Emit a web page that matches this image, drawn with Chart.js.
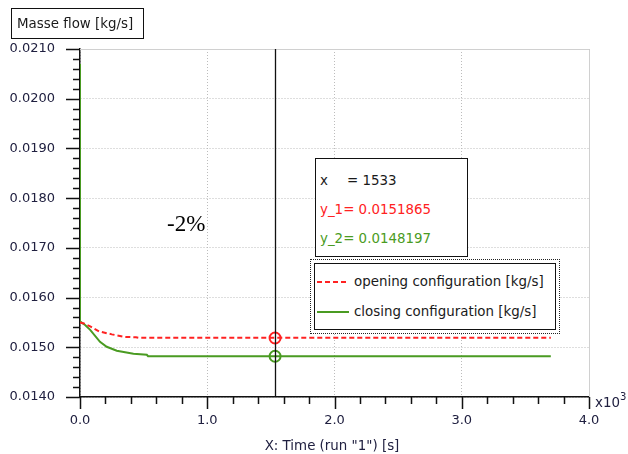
<!DOCTYPE html>
<html>
<head>
<meta charset="utf-8">
<script src="https://cdn.jsdelivr.net/npm/chart.js@4"></script>
<style>
  html, body { margin: 0; padding: 0; background: #fff; overflow: hidden; }
  #wrap { position: relative; width: 628px; height: 454px; }
  #chart { position: absolute; left: 0; top: 0; }
  .txt { position: absolute; font-family: "DejaVu Sans", sans-serif; font-size: 13.4px; color: #1a1a1a; white-space: nowrap; }
  #ytitle { left: 11px; top: 8px; width: 133px; height: 31px; border: 1px solid #111; box-sizing: border-box; line-height: 29px; padding-left: 5px; }
  #info { left: 315px; top: 158px; width: 153px; height: 99px; border: 1.5px solid #111; box-sizing: border-box; background: #fff; }
  #info div { position: absolute; left: 4px; line-height: 16px; }
  #info .k { display: inline-block; width: 27px; }
  #legend { left: 310px; top: 259px; width: 250px; height: 75px; border: 1.5px dotted #222; box-sizing: border-box; background: #fff; }
  #legend .inner { position: absolute; left: 3px; top: 3px; right: 3px; bottom: 3px; border: 1.5px solid #111; }
  #legend .row { position: absolute; left: 2px; height: 16px; line-height: 16px; }
  #legend .sample { display: inline-block; width: 32px; height: 2px; vertical-align: middle; margin-right: 5px; }
  #wrap #pct { left: 167px; top: 211px; font-family: "Liberation Serif", "DejaVu Serif", serif; font-size: 23px; color: #000; }
  #xexp { left: 595px; top: 393px; color: #202040; }
  #xexp sup { font-size: 10px; position: relative; top: -2px; }
  #xtitle { left: 0; width: 664px; top: 438px; text-align: center; color: #202040; }
</style>
</head>
<body>
<div id="wrap">
  <canvas id="chart" width="628" height="454"></canvas>
  <div class="txt" id="ytitle">Masse flow [kg/s]</div>
  <div class="txt" id="pct">-2%</div>
  <div class="txt" id="info">
    <div style="top:14px"><span class="k">x</span>= 1533</div>
    <div style="top:43px;color:#ff2222">y_1= 0.0151865</div>
    <div style="top:72px;color:#4a9b22">y_2= 0.0148197</div>
  </div>
  <div class="txt" id="legend">
    <div class="inner">
      <div class="row" style="top:10px"><span class="sample" style="background:repeating-linear-gradient(to right,#ff2222 0 5px,transparent 5px 8px)"></span>opening configuration [kg/s]</div>
      <div class="row" style="top:40px"><span class="sample" style="background:#4a9b22"></span>closing configuration [kg/s]</div>
    </div>
  </div>
  <div class="txt" id="xexp">x10<sup>3</sup></div>
  <div class="txt" id="xtitle">X: Time (run "1") [s]</div>
</div>
<script>
// values (time in s, flow in kg/s)
const openTime = [0, 30, 80, 150, 250, 350, 440, 460, 3700];
const openFlow = [0.01550, 0.01548, 0.01542, 0.01532, 0.01526, 0.01521, 0.01520, 0.01519, 0.01519];

const closeTime = [0, 0, 40, 80, 157, 210, 289, 420, 525, 535, 3700];
const closeFlow = [0.0207, 0.01552, 0.01545, 0.01535, 0.01511, 0.01501, 0.01493, 0.01487, 0.01485, 0.01482, 0.01482];

const cursorX = 1533;
const cursorOpen = 0.0151865;
const cursorClose = 0.0148197;

const xMajor = [0, 1000, 2000, 3000, 4000];
const yMajor = [0.0140, 0.0150, 0.0160, 0.0170, 0.0180, 0.0190, 0.0200, 0.0210];

const RED = '#ff2222';
const GREEN = '#4a9b22';
const TICK_TXT = '#202040';

const toXY = (xs, ys) => xs.map((x, i) => ({ x: x, y: ys[i] }));

// minor/major tick marks, plot frame and cursor line
const decorPlugin = {
    id: 'decor',
    afterDatasetsDraw(chart) {
        const ctx = chart.ctx;
        const xs = chart.scales.x;
        const ys = chart.scales.y;
        const a = chart.chartArea;
        ctx.save();

        // light frame on top and right
        ctx.strokeStyle = '#d0d0d0';
        ctx.lineWidth = 1;
        ctx.beginPath();
        ctx.moveTo(a.left, a.top + 0.5);
        ctx.lineTo(a.right + 0.5, a.top + 0.5);
        ctx.lineTo(a.right + 0.5, a.bottom);
        ctx.stroke();

        // cursor
        const cx = Math.round(xs.getPixelForValue(cursorX)) + 0.5;
        ctx.strokeStyle = '#111';
        ctx.lineWidth = 1.3;
        ctx.beginPath();
        ctx.moveTo(cx, a.top);
        ctx.lineTo(cx, a.bottom);
        ctx.stroke();

        // ticks
        ctx.strokeStyle = '#111';
        ctx.lineWidth = 1.5;
        ctx.beginPath();
        for (let i = 0; i <= 35; i++) {
            const v = yMajor[0] + i * 0.0002;
            const py = Math.round(ys.getPixelForValue(v)) + 0.5;
            const len = i % 5 === 0 ? 14 : 7;
            ctx.moveTo(a.left - len, py);
            ctx.lineTo(a.left, py);
        }
        for (let i = 0; i <= 20; i++) {
            const v = i * 200;
            const px = Math.round(xs.getPixelForValue(v)) + 0.5;
            const len = i % 5 === 0 ? 12 : 7;
            ctx.moveTo(px, a.bottom);
            ctx.lineTo(px, a.bottom + len);
        }
        ctx.stroke();
        ctx.restore();
    }
};

new Chart(document.getElementById('chart'), {
    type: 'scatter',
    data: {
        datasets: [
            {
                label: 'opening configuration [kg/s]',
                data: toXY(openTime, openFlow),
                showLine: true,
                borderColor: RED,
                borderWidth: 2,
                borderDash: [5, 3],
                pointRadius: 0,
                tension: 0
            },
            {
                label: 'closing configuration [kg/s]',
                data: toXY(closeTime, closeFlow),
                showLine: true,
                borderColor: GREEN,
                borderWidth: 2,
                pointRadius: 0,
                tension: 0
            },
            {
                label: 'y_1',
                data: [{ x: cursorX, y: cursorOpen }],
                pointRadius: 5.5,
                pointBorderWidth: 2,
                pointBorderColor: RED,
                pointBackgroundColor: 'rgba(0,0,0,0)'
            },
            {
                label: 'y_2',
                data: [{ x: cursorX, y: cursorClose }],
                pointRadius: 5.5,
                pointBorderWidth: 2,
                pointBorderColor: GREEN,
                pointBackgroundColor: 'rgba(0,0,0,0)'
            }
        ]
    },
    options: {
        responsive: false,
        animation: false,
        events: [],
        layout: { padding: { top: 49, right: 39, left: 0, bottom: 0 } },
        plugins: {
            legend: { display: false },
            tooltip: { enabled: false }
        },
        scales: {
            x: {
                type: 'linear',
                min: 0,
                max: 4000,
                afterBuildTicks: (s) => { s.ticks = xMajor.map(v => ({ value: v })); },
                afterFit: (s) => { s.height = 57; },
                ticks: {
                    autoSkip: false,
                    maxRotation: 0,
                    padding: 16,
                    color: TICK_TXT,
                    font: { family: 'DejaVu Sans', size: 13 },
                    callback: (v) => (v / 1000).toFixed(1)
                },
                grid: { color: '#bcbcbc', lineWidth: 1, drawTicks: false },
                border: { color: '#111', width: 1.5, dash: [1, 2] }
            },
            y: {
                type: 'linear',
                min: 0.014,
                max: 0.021,
                afterBuildTicks: (s) => { s.ticks = yMajor.map(v => ({ value: v })); },
                afterFit: (s) => { s.width = 80; },
                ticks: {
                    autoSkip: false,
                    padding: 25,
                    color: TICK_TXT,
                    font: { family: 'DejaVu Sans', size: 13 },
                    callback: (v) => v.toFixed(4)
                },
                grid: { color: '#bcbcbc', lineWidth: 1, drawTicks: false },
                border: { color: '#111', width: 1.5, dash: [1, 2] }
            }
        }
    },
    plugins: [decorPlugin]
});
</script>
</body>
</html>
